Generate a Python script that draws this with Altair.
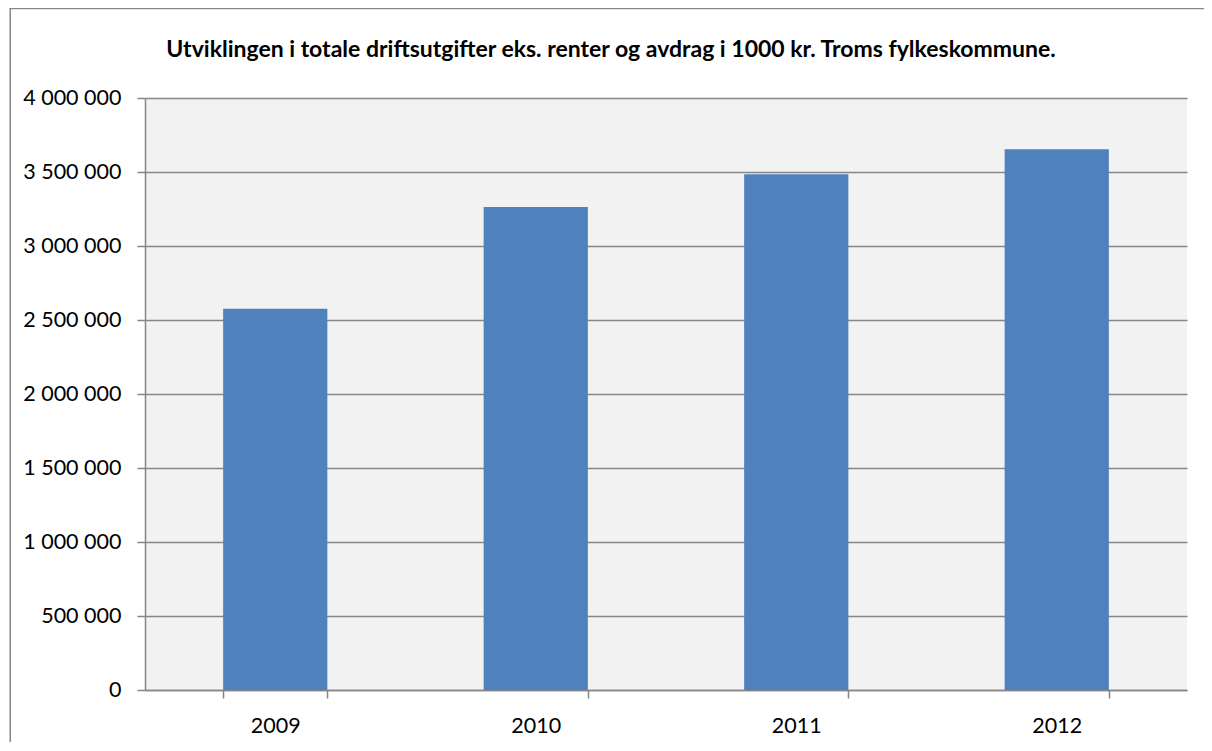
import altair as alt
import pandas as pd

years = ["2009", "2010", "2011", "2012"]
values = [2576000, 3263000, 3485000, 3653000]
y_ticks = [0, 500000, 1000000, 1500000, 2000000, 2500000, 3000000, 3500000, 4000000]
title_text = "Utviklingen i totale driftsutgifter eks. renter og avdrag i 1000 kr. Troms fylkeskommune."

df = pd.DataFrame({"year": years, "value": values})

FONT = "Lato"
GRAY = "#868686"

bars = alt.Chart(df).mark_bar(color="#4F81BD").encode(
    x=alt.X(
        "year:N",
        sort=years,
        scale=alt.Scale(paddingInner=0.6, paddingOuter=0.3),
        axis=alt.Axis(
            title=None,
            labelAngle=0,
            tickBand="extent",
            tickSize=8,
            tickColor=GRAY,
            tickWidth=1.5,
            domainColor=GRAY,
            domainWidth=1.5,
            labelFont=FONT,
            labelFontSize=21.5,
            labelColor="black",
            labelPadding=17,
            grid=False,
        ),
    ),
    y=alt.Y(
        "value:Q",
        scale=alt.Scale(domain=[0, 4000000], nice=False),
        axis=alt.Axis(
            title=None,
            values=y_ticks,
            labelExpr="replace(replace(format(datum.value, ',d'), ',', ' '), ',', ' ')",
            tickSize=8,
            tickColor=GRAY,
            tickWidth=1.5,
            domainColor=GRAY,
            domainWidth=1.5,
            gridColor=GRAY,
            gridWidth=1.5,
            labelFont=FONT,
            labelFontSize=21.5,
            labelColor="black",
            labelPadding=16,
        ),
    ),
)

title = alt.Chart(alt.Data(values=[{}])).mark_text(
    text=title_text,
    font=FONT,
    fontSize=23,
    fontWeight="bold",
    color="black",
    align="center",
    baseline="alphabetic",
).encode(x=alt.value(466), y=alt.value(-41))

frame_left = alt.Chart(alt.Data(values=[{}])).mark_rect(color=GRAY).encode(
    x=alt.value(-135.5), x2=alt.value(-134), y=alt.value(-90), y2=alt.value(660)
)
frame_top = alt.Chart(alt.Data(values=[{}])).mark_rule(color=GRAY, strokeWidth=1.5).encode(
    x=alt.value(-135.5), x2=alt.value(1060), y=alt.value(-89.5), y2=alt.value(-89.5)
)

chart = alt.layer(bars, title, frame_left, frame_top).properties(
    width=1042,
    height=592,
    autosize=alt.AutoSizeParams(type="none"),
    padding={"left": 137, "top": 90, "right": 17, "bottom": 52},
    background="white",
).configure_view(fill="#F2F2F2", strokeWidth=0)

chart.save("out.html", embed_options={"renderer": "svg", "actions": False})
